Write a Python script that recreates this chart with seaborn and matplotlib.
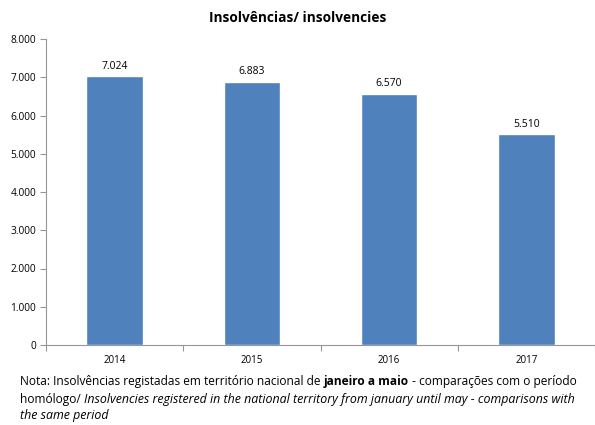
import matplotlib
matplotlib.use("Agg")
import matplotlib.pyplot as plt
import seaborn as sns
import pandas as pd
from matplotlib.ticker import FuncFormatter, FixedLocator

years = ["2014", "2015", "2016", "2017"]
values = [7024, 6883, 6570, 5510]
yticks = [0, 1000, 2000, 3000, 4000, 5000, 6000, 7000, 8000]

sns.set_theme(style="white")
plt.rcParams['font.family'] = ['Open Sans', 'DejaVu Sans']

df = pd.DataFrame({"year": years, "value": values})

fig = plt.figure(figsize=(5.95, 4.25), dpi=100)
ax = fig.add_axes([46/595, (425-345)/425, (595-46)/595, (345-39)/425])

sns.barplot(data=df, x="year", y="value", color="#4F81BD", saturation=1,
            width=0.41, ax=ax)

def fmt(v):
    return f"{int(v):,}".replace(",", ".")

for i, v in enumerate(values):
    ax.text(i, v + 120, fmt(v), ha="center", va="bottom", fontsize=7.5, color="black")

ax.set_ylim(0, 8000)
ax.set_xlim(-0.5, len(years) - 0.5)
ax.set_yticks(yticks)
ax.yaxis.set_major_formatter(FuncFormatter(lambda v, p: fmt(v)))
ax.tick_params(axis="y", labelsize=7.3, labelcolor="black", length=4, width=0.8, color="#969696", direction="out", left=True, pad=3)
ax.tick_params(axis="x", which="major", length=0, labelsize=7, labelcolor="black", pad=7)
ax.xaxis.set_minor_locator(FixedLocator([i - 0.5 for i in range(len(years) + 1)]))
ax.tick_params(axis="x", which="minor", length=4, width=0.8, color="#969696", direction="out", bottom=True)
ax.set_xlabel("")
ax.set_ylabel("")
for s in ["top", "right"]:
    ax.spines[s].set_visible(False)
for s in ["left", "bottom"]:
    ax.spines[s].set_color("#969696")
    ax.spines[s].set_linewidth(0.8)

fig.text(0.5, 1 - 18/425, "Insolvências/ insolvencies", ha="center", va="center",
         fontsize=9.8, fontweight="bold", color="black")

# Note text with mixed styles
fs = 8.6
fsi = 8.9
y1 = 1 - 382/425
x0 = 20/595
t1 = fig.text(x0, y1, "Nota: Insolvências registadas em território nacional de ", fontsize=fs, va="center", color="black")
fig.canvas.draw()
r = fig.canvas.get_renderer()
bb = t1.get_window_extent(r)
t2 = fig.text(bb.x1/595, y1, "janeiro a maio", fontsize=fs, va="center", fontweight="bold", color="black")
bb2 = t2.get_window_extent(r)
fig.text(bb2.x1/595, y1, " - comparações com o período", fontsize=fs, va="center", color="black")

y2 = 1 - 399/425
t3 = fig.text(x0, y2, "homólogo/ ", fontsize=fs, va="center", color="black")
bb3 = t3.get_window_extent(r)
fig.text(bb3.x1/595, y2, "Insolvencies registered in the national territory from january until may - comparisons with",
         fontsize=fsi, va="center", style="italic", color="black")
y3 = 1 - 416/425
fig.text(x0, y3, "the same period", fontsize=fsi, va="center", style="italic", color="black")

fig.savefig("out.png", dpi=100)
